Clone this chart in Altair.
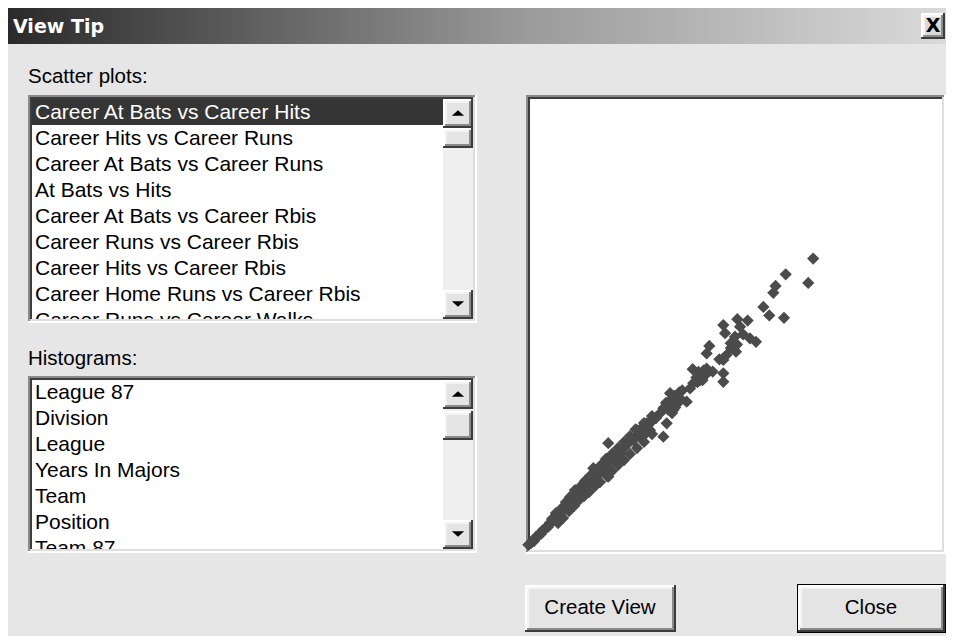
import altair as alt
import pandas as pd

# ---------------- data ----------------
scatter_items = [
    "Career At Bats vs Career Hits",
    "Career Hits vs Career Runs",
    "Career At Bats vs Career Runs",
    "At Bats vs Hits",
    "Career At Bats vs Career Rbis",
    "Career Runs vs Career Rbis",
    "Career Hits vs Career Rbis",
    "Career Home Runs vs Career Rbis",
    "Career Runs vs Career Walks",
]
histogram_items = ["League 87", "Division", "League", "Years In Majors",
                   "Team", "Position", "Team 87"]
selected_index = 0
dialog_title = "View Tip"
label_scatter = "Scatter plots:"
label_hist = "Histograms:"
button_labels = ["Create View", "Close"]

career_at_bats = [
    14053, 12700, 13810, 12200, 12090, 11600, 11890, 12615, 10315, 10825,
    9625, 10450, 9710, 10200, 10940, 11235, 9990, 8935, 10120, 10250,
    8805, 9790, 9430, 9625, 9625, 9625, 9100, 8115, 8720, 8475,
    8145, 7985, 7000, 7490, 7330, 7820, 7160, 6670, 6505, 6835,
    6175, 5850, 6010, 6670, 5520, 5190, 4945, 3955, 4695, 4535,
    4205, 3880, 3220, 3955, 3550, 2895, 2565, 2230, 1905, 1575,
    1245, 920, 590, 260, 20,
    148, 296, 394, 493, 641, 739, 838, 986, 1084, 1183,
    1331, 1429, 1528, 1676, 1774, 1873, 2020, 2119, 2218, 2365,
    2464, 2563, 2710, 2809, 2957, 3055, 3203, 3302, 3450, 3597,
    3745, 3844, 3992, 4139, 4287, 4435, 4583, 4731, 4879, 5026,
    5224, 5371, 5569, 5716, 5914, 6111, 6308,
    6900, 7100, 7000, 7300, 7200, 7450, 7600,
    8300, 8500, 8650, 8400, 8800,
    1183, 1380, 1625, 1870, 2070, 2317, 2562, 2810, 3055, 3300,
    3597, 3844, 4139, 4435, 4731, 5026, 5371, 5716, 6111,
    1480, 1725, 2020, 2267, 2512, 2760, 3005, 3300, 3548, 3893,
    4139, 4435, 4731, 5026, 5371, 5716, 6111,
    6950, 7250, 7100, 6800, 7400, 8600, 8350, 8750, 5600, 5300,
    5800, 10300, 10600, 10000, 4300, 4000,
]
career_hits = [
    4256, 4025, 3900, 3855, 3755, 3550, 3425, 3390, 3370, 3350,
    3285, 3260, 3165, 3115, 3090, 3040, 3020, 2980, 2945, 2895,
    2870, 2850, 2785, 2775, 2580, 2455, 2605, 2640, 2555, 2480,
    2435, 2360, 2290, 2215, 2140, 2165, 2045, 2070, 1995, 1850,
    1925, 1850, 1750, 1655, 1655, 1605, 1560, 1560, 1485, 1410,
    1315, 1215, 1195, 1070, 1120, 925, 830, 755, 630, 535,
    440, 340, 245, 145, 75,
    102, 131, 190, 204, 234, 292, 307, 336, 394, 409,
    438, 496, 511, 555, 613, 628, 657, 715, 730, 774,
    832, 847, 876, 934, 964, 1007, 1037, 1095, 1110, 1153,
    1197, 1241, 1285, 1329, 1358, 1416, 1445, 1504, 1548, 1591,
    1635, 1679, 1737, 1781, 1825, 1883, 1927,
    2050, 2120, 2180, 2200, 2250, 2300, 2330,
    2520, 2560, 2620, 2600, 2650,
    453, 540, 600, 700, 774, 876, 920, 1008, 1081, 1154,
    1241, 1329, 1402, 1489, 1577, 1664, 1752, 1854, 1956,
    394, 467, 569, 642, 730, 788, 846, 934, 992, 1080,
    1153, 1241, 1314, 1402, 1489, 1577, 1693,
    2100, 2080, 2000, 2150, 2150, 2480, 2450, 2560, 1780, 1760,
    1700, 3000, 3150, 2950, 1380, 1330,
]

# --------------- layout ---------------
OFF = 8
W, H = 938, 628
BG = "#e6e6e6"
FONT = "Liberation Sans"

px_x = alt.Scale(domain=[OFF, OFF + W], range=[0, W], nice=False, zero=False)
px_y = alt.Scale(domain=[OFF, OFF + H], range=[0, H], nice=False, zero=False)

back, front = [], []


def R(lst, x0, y0, x1, y1, c):
    lst.append(dict(x=x0, x2=x1, y=y0, y2=y1, fill=c))


def sunken(x0, y0, x1, y1, inner="#ffffff", b=2):
    R(back, x0, y0, x1, y1, "#ffffff")
    R(back, x0, y0, x1 - b, y1 - b, "#8a8a8a")
    R(back, x0 + b, y0 + b, x1 - b, y1 - b, "#dedede")
    R(back, x0 + b, y0 + b, x1 - 2 * b, y1 - 2 * b, "#3c3c3c")
    R(back, x0 + 2 * b, y0 + 2 * b, x1 - 2 * b, y1 - 2 * b, inner)


def raised(lst, x0, y0, x1, y1, face="#e4e4e4", b=2):
    R(lst, x0, y0, x1, y1, "#3c3c3c")
    R(lst, x0, y0, x1 - b, y1 - b, "#ffffff")
    R(lst, x0 + b, y0 + b, x1 - b, y1 - b, "#8a8a8a")
    R(lst, x0 + b, y0 + b, x1 - 2 * b, y1 - 2 * b, "#f4f4f4")
    R(lst, x0 + 2 * b, y0 + 2 * b, x1 - 2 * b, y1 - 2 * b, face)


arrows = []
rows = []


def listbox(x0, y0, x1, y1, thumb, row0, items, sel):
    sunken(x0, y0, x1, y1)
    sx0, sx1 = x1 - 34, x1 - 4
    iy0, iy1 = y0 + 4, y1 - 4
    if sel is not None:
        R(back, x0 + 4, iy0, sx0, iy0 + 26, "#353535")
    R(back, sx0, iy0, sx1, iy1, "#efefef")
    raised(back, sx0, iy0, sx1, iy0 + 29)
    raised(back, sx0, thumb[0], sx1, thumb[1])
    raised(back, sx0, iy1 - 29, sx1, iy1)
    # mask the text below the visible area
    R(front, x0 + 4, y1, sx0, y1 + 22, BG)
    R(front, x0 + 4, y1 - 2, sx0, y1, "#ffffff")
    R(front, x0 + 4, y1 - 4, sx0, y1 - 2, "#dedede")
    for i, t in enumerate(items):
        rows.append(dict(x=35, y=row0 + 26 * i, t=t,
                         c="#ffffff" if i == sel else "#000000"))
    arrows.append(dict(x=(sx0 + sx1) / 2, y=iy0 + 14, s="up"))
    arrows.append(dict(x=(sx0 + sx1) / 2, y=iy1 - 15, s="down"))


# close box in title bar
raised(back, 921, 13, 945, 39, face="#d9d9d9")

listbox(28, 95, 477, 323, (128, 148), 113, scatter_items, selected_index)
listbox(28, 376, 477, 553, (411, 440), 393, histogram_items, None)

# scatter panel
sunken(526, 95, 946, 554)

# buttons
raised(back, 525, 585, 676, 632)
R(back, 797, 584, 946, 633, "#000000")
raised(back, 798, 585, 945, 632)

labels = [dict(x=28, y=77, t=label_scatter), dict(x=28, y=359, t=label_hist)]
btn_text = [dict(x=600, y=608, t=button_labels[0]),
            dict(x=871, y=608, t=button_labels[1])]


def rect_layer(lst):
    return alt.Chart(pd.DataFrame(lst)).mark_rect().encode(
        x=alt.X("x:Q", scale=px_x, axis=None),
        x2="x2:Q",
        y=alt.Y("y:Q", scale=px_y, axis=None),
        y2="y2:Q",
        color=alt.Color("fill:N", scale=None),
    )


def text_layer(lst, **kw):
    enc = dict(x=alt.X("x:Q", scale=px_x, axis=None),
               y=alt.Y("y:Q", scale=px_y, axis=None), text="t:N")
    if "c" in lst[0]:
        enc["color"] = alt.Color("c:N", scale=None)
    return alt.Chart(pd.DataFrame(lst)).mark_text(baseline="middle", **kw).encode(**enc)


title_grad = alt.LinearGradient(
    gradient="linear",
    stops=[alt.GradientStop(color="#2a2a2a", offset=0),
           alt.GradientStop(color="#9a9a9a", offset=0.55),
           alt.GradientStop(color="#dadada", offset=1)],
    x1=0, x2=1, y1=0, y2=0,
)
title_bar = alt.Chart(pd.DataFrame([dict(x=OFF, x2=OFF + W, y=OFF, y2=44)])).mark_rect(
    color=title_grad
).encode(
    x=alt.X("x:Q", scale=px_x, axis=None), x2="x2:Q",
    y=alt.Y("y:Q", scale=px_y, axis=None), y2="y2:Q",
)

title_text = text_layer([dict(x=13, y=27, t=dialog_title)], font="DejaVu Sans",
                        fontSize=19, fontWeight="bold", color="#ffffff", align="left")
x_text = text_layer([dict(x=933, y=26, t="X")], font="DejaVu Sans", fontSize=19,
                    fontWeight="bold", color="#000000", align="center")
label_layer = text_layer(labels, font=FONT, fontSize=20.5, color="#000000", align="left")
row_layer = text_layer(rows, font=FONT, fontSize=21, align="left")
btn_layer = text_layer(btn_text, font=FONT, fontSize=20.5, color="#000000", align="center")

arr = pd.DataFrame(arrows)
up_layer = alt.Chart(arr[arr.s == "up"]).mark_point(
    shape="M-1,0.45L1,0.45L0,-0.45Z", filled=True, size=150, color="#000000", opacity=1
).encode(x=alt.X("x:Q", scale=px_x, axis=None), y=alt.Y("y:Q", scale=px_y, axis=None))
down_layer = alt.Chart(arr[arr.s == "down"]).mark_point(
    shape="M-1,-0.45L1,-0.45L0,0.45Z", filled=True, size=150, color="#000000", opacity=1
).encode(x=alt.X("x:Q", scale=px_x, axis=None), y=alt.Y("y:Q", scale=px_y, axis=None))

ui = alt.layer(title_bar, rect_layer(back), title_text, x_text, label_layer,
               row_layer, rect_layer(front), btn_layer, up_layer, down_layer)

scatter_df = pd.DataFrame({"CAtBat": career_at_bats, "CHits": career_hits})
scatter = alt.Chart(scatter_df).mark_point(
    shape="diamond", filled=True, size=150, color="#4b4b4b", opacity=1
).encode(
    x=alt.X("CAtBat:Q", axis=None,
            scale=alt.Scale(domain=[0, 20500], range=[528 - OFF, 944 - OFF], nice=False)),
    y=alt.Y("CHits:Q", axis=None,
            scale=alt.Scale(domain=[0, 6600], range=[550 - OFF, 98 - OFF], nice=False)),
)

chart = alt.layer(ui, scatter).resolve_scale(x="independent", y="independent").properties(
    width=W, height=H, background=BG, padding=0,
    autosize=alt.AutoSizeParams(type="none"),
).configure_view(stroke=None)

chart.save("out.html", embed_options={"renderer": "svg", "actions": False})
